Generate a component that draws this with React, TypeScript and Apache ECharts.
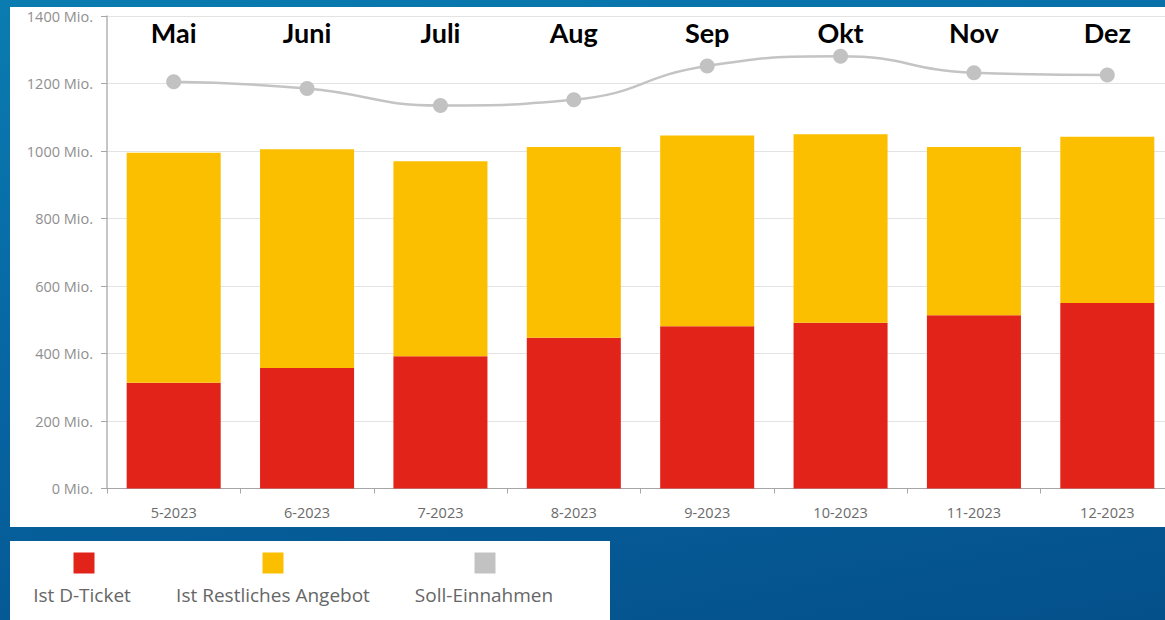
import React, { useEffect, useRef } from "react";
import * as echarts from "echarts";

const categories = ["5-2023", "6-2023", "7-2023", "8-2023", "9-2023", "10-2023", "11-2023", "12-2023"];
const monthNames = ["Mai", "Juni", "Juli", "Aug", "Sep", "Okt", "Nov", "Dez"];
const dTicket = [313, 357, 392, 447, 481, 491, 513, 550];
const restAngebot = [682, 648, 578, 565, 565, 559, 499, 492];
const sollEinnahmen = [1205, 1185, 1135, 1152, 1252, 1281, 1232, 1225];
const seriesNames = ["Ist D-Ticket", "Ist Restliches Angebot", "Soll-Einnahmen"];
const seriesColors = ["#e2231a", "#fbbf00", "#c2c2c2"];

const legendPos = [
  { x: 84, label: 82 },
  { x: 273, label: 273 },
  { x: 485, label: 484 },
];

export default function App() {
  const ref = useRef<HTMLDivElement>(null);
  useEffect(() => {
    if (!ref.current) return;
    const chart = echarts.init(ref.current, null, { renderer: "svg" });
    const graphics: any[] = [];
    seriesNames.forEach((n, i) => {
      graphics.push({
        type: "rect",
        shape: { x: legendPos[i].x - 10.5, y: 552.5, width: 21, height: 21 },
        style: { fill: seriesColors[i] },
      });
      graphics.push({
        type: "text",
        x: legendPos[i].label,
        y: 595,
        style: {
          text: n,
          fill: "#666666",
          font: "19px 'Open Sans'",
          textAlign: "center",
          textVerticalAlign: "middle",
        },
      });
    });
    chart.setOption({
      animation: false,
      backgroundColor: "transparent",
      legend: { show: false, data: seriesNames },
      grid: { left: 107, top: 16, right: 6, bottom: 131.5, containLabel: false },
      xAxis: [
        {
          type: "category",
          data: categories,
          axisLine: { lineStyle: { color: "#a6a6a6", width: 1 } },
          axisTick: { show: true, length: 5, lineStyle: { color: "#a6a6a6" } },
          axisLabel: { color: "#6b6b6b", fontSize: 14.5, fontFamily: "Open Sans", margin: 16 },
        },
        {
          type: "category",
          data: monthNames,
          position: "top",
          axisLine: { show: false },
          axisTick: { show: false },
          axisLabel: {
            inside: true,
            margin: 3,
            color: "#000000",
            fontSize: 27,
            fontWeight: "bold",
            fontFamily: "Lato",
          },
        },
      ],
      yAxis: {
        type: "value",
        min: 0,
        max: 1400,
        interval: 200,
        axisLine: { show: true, lineStyle: { color: "#b3b3b3", width: 1.5 } },
        axisTick: { show: true, length: 6, lineStyle: { color: "#a6a6a6" } },
        splitLine: { lineStyle: { color: "#e3e3e3", width: 1 } },
        axisLabel: {
          color: "#8f8f8f",
          fontSize: 14.5,
          fontFamily: "Open Sans",
          margin: 14,
          formatter: (v: number) => `${v} Mio.`,
        },
      },
      series: [
        {
          name: seriesNames[0],
          type: "bar",
          stack: "ist",
          data: dTicket,
          barWidth: "70.5%",
          itemStyle: { color: seriesColors[0] },
        },
        {
          name: seriesNames[1],
          type: "bar",
          stack: "ist",
          data: restAngebot,
          barWidth: "70.5%",
          itemStyle: { color: seriesColors[1] },
        },
        {
          name: seriesNames[2],
          type: "line",
          data: sollEinnahmen,
          smooth: 0.5,
          symbol: "circle",
          symbolSize: 15,
          lineStyle: { color: "#c4c4c4", width: 2.5 },
          itemStyle: { color: seriesColors[2] },
          z: 5,
        },
      ],
      graphic: graphics,
    });
    return () => chart.dispose();
  }, []);

  return (
    <div
      style={{
        position: "absolute",
        left: 0,
        top: 0,
        width: 1165,
        height: 620,
        overflow: "hidden",
        background: "linear-gradient(170deg, #0a7cb0 0%, #0766a2 45%, #04508b 100%)",
      }}
    >
      <div style={{ position: "absolute", left: 10, top: 7, width: 1160, height: 520, background: "#ffffff" }} />
      <div style={{ position: "absolute", left: 10, top: 541, width: 600, height: 80, background: "#ffffff" }} />
      <div ref={ref} style={{ position: "absolute", left: 0, top: 0, width: 1180, height: 620 }} />
    </div>
  );
}
